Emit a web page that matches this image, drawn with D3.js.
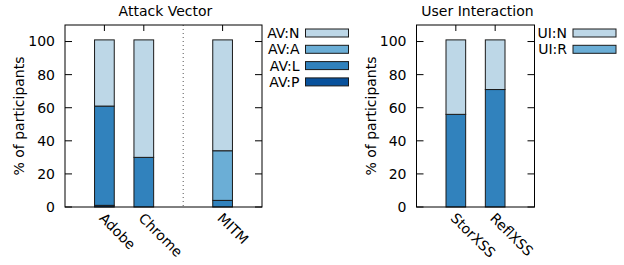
<!DOCTYPE html>
<html>
<head>
<meta charset="utf-8">
<script src="https://cdn.jsdelivr.net/npm/d3@7"></script>
<style>
  body { margin: 0; background: #fff; }
  svg text { font-family: "DejaVu Sans", sans-serif; font-size: 14px; fill: #000; }
</style>
</head>
<body>
<div id="chart"></div>
<script>
// ---- data ----
const avCategories = ["Adobe", "Chrome", "MITM"];
const avPositions = [1, 2, 4];
const avSeries = ["AV:P", "AV:L", "AV:A", "AV:N"];
const avP = [1, 0, 0];
const avL = [60, 30, 4];
const avA = [0, 0, 30];
const avN = [40, 71, 67];
const avColors = ["#08519c", "#3182bd", "#6baed6", "#bdd7e7"];

const uiCategories = ["StorXSS", "ReflXSS"];
const uiPositions = [1, 2];
const uiSeries = ["UI:R", "UI:N"];
const uiR = [56, 71];
const uiN = [45, 30];
const uiColors = ["#3182bd", "#bdd7e7"];
const uiLegendColors = ["#6baed6", "#bdd7e7"];

const yTicks = [0, 20, 40, 60, 80, 100];

let svg = d3.select("#chart")
    .append("svg")
    .attr("width", 624)
    .attr("height", 265);

function drawPanel(opt) {
    let x = d3.scaleLinear().domain(opt.xDomain).range([opt.left, opt.right]);
    let y = d3.scaleLinear().domain([0, 110]).range([207, 25]);
    let g = svg.append("g");

    // title
    g.append("text")
        .attr("x", (opt.left + opt.right) / 2 + 2)
        .attr("y", 16)
        .attr("text-anchor", "middle")
        .text(opt.title);

    // y label
    g.append("text")
        .attr("transform", `translate(${opt.left - 41},${(y(0) + y(110)) / 2}) rotate(-90)`)
        .attr("text-anchor", "middle")
        .text("% of participants");

    // y ticks (inside, mirrored)
    yTicks.forEach(v => {
        g.append("line").attr("x1", opt.left).attr("x2", opt.left + 7)
            .attr("y1", y(v)).attr("y2", y(v)).attr("stroke", "#000");
        g.append("line").attr("x1", opt.right).attr("x2", opt.right - 7)
            .attr("y1", y(v)).attr("y2", y(v)).attr("stroke", "#000");
        g.append("text")
            .attr("x", opt.left - 10)
            .attr("y", y(v))
            .attr("dy", "0.35em")
            .attr("text-anchor", "end")
            .text(v);
    });

    // x ticks top/bottom
    opt.positions.forEach(p => {
        g.append("line").attr("x1", x(p)).attr("x2", x(p))
            .attr("y1", y(110)).attr("y2", y(110) + 6).attr("stroke", "#000");
        g.append("line").attr("x1", x(p)).attr("x2", x(p))
            .attr("y1", y(0)).attr("y2", y(0) - 6).attr("stroke", "#000");
    });

    // divider
    if (opt.divider !== undefined) {
        g.append("line")
            .attr("x1", x(opt.divider)).attr("x2", x(opt.divider))
            .attr("y1", y(110)).attr("y2", y(0))
            .attr("stroke", "#555")
            .attr("stroke-dasharray", "1,3");
    }

    // stacked bars
    let stack = d3.stack().keys(opt.series.map((s, i) => i))
        .value((d, k) => d.values[k]);
    let rows = opt.categories.map((c, i) => ({
        cat: c, pos: opt.positions[i],
        values: opt.data.map(arr => arr[i])
    }));
    let layers = stack(rows);
    let bw = x(0.5) - x(0);
    layers.forEach((layer, li) => {
        g.selectAll(null)
            .data(layer.filter(d => d[1] > d[0]))
            .enter()
            .append("rect")
            .attr("x", d => x(d.data.pos) - bw / 2)
            .attr("y", d => y(d[1]))
            .attr("width", bw)
            .attr("height", d => y(d[0]) - y(d[1]))
            .attr("fill", opt.colors[li])
            .attr("stroke", "#1a1a1a")
            .attr("stroke-width", 1);
    });

    // frame
    g.append("rect")
        .attr("x", opt.left).attr("y", y(110))
        .attr("width", opt.right - opt.left)
        .attr("height", y(0) - y(110))
        .attr("fill", "none")
        .attr("stroke", "#000");

    // x tick labels
    opt.categories.forEach((c, i) => {
        let px = x(opt.positions[i]) - 6;
        let py = y(0) + 12;
        g.append("text")
            .attr("transform", `translate(${px},${py}) rotate(45)`)
            .attr("text-anchor", "start")
            .text(c);
    });

    // legend, top entry is last series
    let legendOrder = opt.series.map((s, i) => i).reverse();
    legendOrder.forEach((si, row) => {
        let cy = 33 + row * 16.3;
        g.append("text")
            .attr("x", opt.legendX - 6)
            .attr("y", cy)
            .attr("dy", "0.35em")
            .attr("text-anchor", "end")
            .text(opt.series[si]);
        g.append("rect")
            .attr("x", opt.legendX).attr("y", cy - 4)
            .attr("width", 43).attr("height", 8)
            .attr("fill", opt.legendColors[si])
            .attr("stroke", "#1a1a1a");
    });
}

drawPanel({
    title: "Attack Vector",
    left: 65, right: 262, xDomain: [0, 5],
    categories: avCategories, positions: avPositions,
    series: avSeries, data: [avP, avL, avA, avN],
    colors: avColors, legendColors: avColors,
    divider: 3, legendX: 305.5
});

drawPanel({
    title: "User Interaction",
    left: 416.5, right: 534.5, xDomain: [0, 3],
    categories: uiCategories, positions: uiPositions,
    series: uiSeries, data: [uiR, uiN],
    colors: uiColors, legendColors: uiLegendColors,
    legendX: 573
});
</script>
</body>
</html>
